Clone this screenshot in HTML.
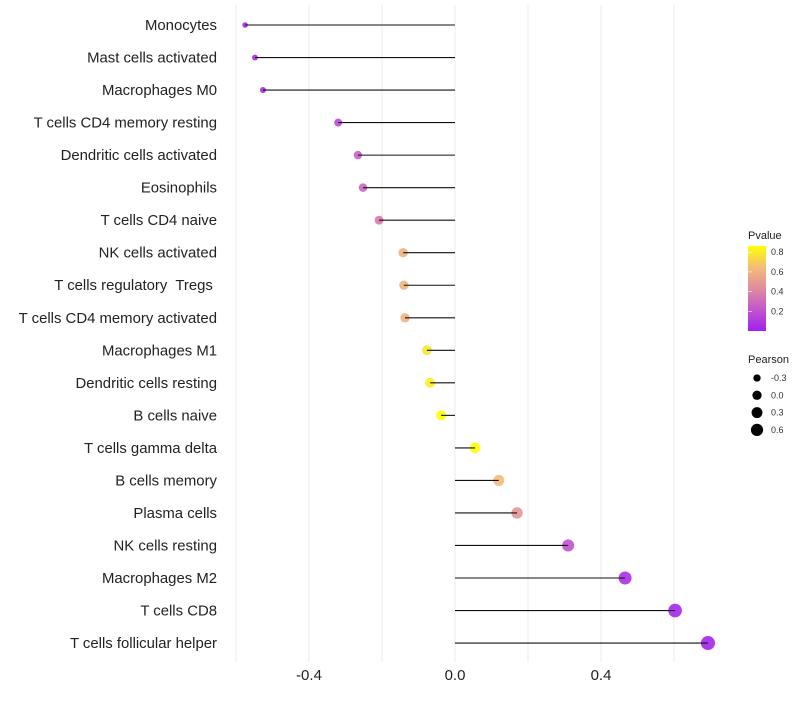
<!DOCTYPE html>
<html><head><meta charset="utf-8"><style>
body{margin:0;background:#fff;font-family:"Liberation Sans",sans-serif}
svg text{font-family:"Liberation Sans",sans-serif;white-space:pre}
</style></head><body>
<svg id="chart" width="800" height="700">
<defs><linearGradient id="pg" x1="0" y1="1" x2="0" y2="0">
<stop offset="0" stop-color="#a020f0"/><stop offset="0.25" stop-color="#c355cc"/><stop offset="0.5" stop-color="#df8ca0"/><stop offset="0.75" stop-color="#f2bd78"/><stop offset="1" stop-color="#ffff00"/>
</linearGradient></defs>
<g id="grid"></g><g id="points"></g><g id="stems"></g><g id="labels"></g><g id="legend"></g>
</svg>
<script>
const categories=["Monocytes","Mast cells activated","Macrophages M0","T cells CD4 memory resting","Dendritic cells activated","Eosinophils","T cells CD4 naive","NK cells activated","T cells regulatory  Tregs ","T cells CD4 memory activated","Macrophages M1","Dendritic cells resting","B cells naive","T cells gamma delta","B cells memory","Plasma cells","NK cells resting","Macrophages M2","T cells CD8","T cells follicular helper"];
const pearson=[-0.575,-0.548,-0.526,-0.32,-0.266,-0.252,-0.208,-0.142,-0.14,-0.137,-0.077,-0.068,-0.038,0.055,0.12,0.17,0.31,0.466,0.603,0.693];
const pvalue=[0.02,0.03,0.04,0.17,0.26,0.28,0.36,0.6,0.6,0.6,0.78,0.8,0.88,0.86,0.64,0.47,0.2,0.07,0.03,0.02];
const xTicks=[-0.4,0.0,0.4];
const xGrid=[-0.6,-0.4,-0.2,0,0.2,0.4,0.6];
const sizeLegend=[-0.3,0.0,0.3,0.6];
const pTicks=[0.2,0.4,0.6,0.8];
const NS="http://www.w3.org/2000/svg";
function el(t,a,p){const e=document.createElementNS(NS,t);for(const k in a)e.setAttribute(k,a[k]);p.appendChild(e);return e;}
const X=v=>455+v*365;
const Y=i=>25+i*32.53;
const R=v=>Math.sqrt(Math.max(4,26.5+33*v));
const stops=[[0,[160,32,240]],[0.25,[195,85,204]],[0.5,[223,140,160]],[0.75,[242,189,120]],[1,[255,255,0]]];
function col(p){const t=Math.min(1,Math.max(0,p/0.86));for(let i=1;i<stops.length;i++){if(t<=stops[i][0]){const a=stops[i-1],b=stops[i],f=(t-a[0])/(b[0]-a[0]);return "rgb("+a[1].map((c,j)=>Math.round(c+(b[1][j]-c)*f)).join(",")+")";}}return "rgb(255,255,0)";}
const grid=document.getElementById('grid'),points=document.getElementById('points'),stems=document.getElementById('stems'),labels=document.getElementById('labels'),legend=document.getElementById('legend');
xGrid.forEach(v=>{const l=el('line',{x1:X(v),x2:X(v),y1:5,y2:662,stroke:'#ebebeb','stroke-width':1},grid);

});
xTicks.forEach(v=>{const t=el('text',{x:X(v),y:680,'font-size':15,'text-anchor':'middle',fill:'#222'},labels);t.textContent=v.toFixed(1);

});
categories.forEach((c,i)=>{const y=Y(i);
const t=el('text',{x:217,y:y+5,'font-size':14.9,'text-anchor':'end',fill:'#222'},labels);t.textContent=c;


const d=el('circle',{cx:X(pearson[i]),cy:y,r:R(pearson[i]),fill:col(pvalue[i]),'fill-opacity':0.9},points);


const s=el('line',{x1:X(0),x2:X(pearson[i]),y1:y,y2:y,stroke:'#111','stroke-width':1.1},stems);

});
let t=el('text',{x:748,y:239,'font-size':11,fill:'#222'},legend);t.textContent='Pvalue';


const bar=el('rect',{x:748,y:246,width:18,height:85,fill:'url(#pg)'},legend);


const PY=v=>331-v*98.5;
pTicks.forEach(v=>{const l=el('text',{x:771,y:PY(v)+3,'font-size':9,fill:'#333'},legend);l.textContent=v.toFixed(1);


const tk=el('line',{x1:748,x2:752,y1:PY(v),y2:PY(v),stroke:'#fff','stroke-width':0.6},legend);

});
t=el('text',{x:748,y:363,'font-size':11,fill:'#222'},legend);t.textContent='Pearson';


sizeLegend.forEach((v,i)=>{const y=378+i*17.3;
const c=el('circle',{cx:757,cy:y,r:R(v)*0.9,fill:'#000'},legend);


const l=el('text',{x:771,y:y+3,'font-size':9,fill:'#333'},legend);l.textContent=v.toFixed(1);

});
</script>
</body></html>
